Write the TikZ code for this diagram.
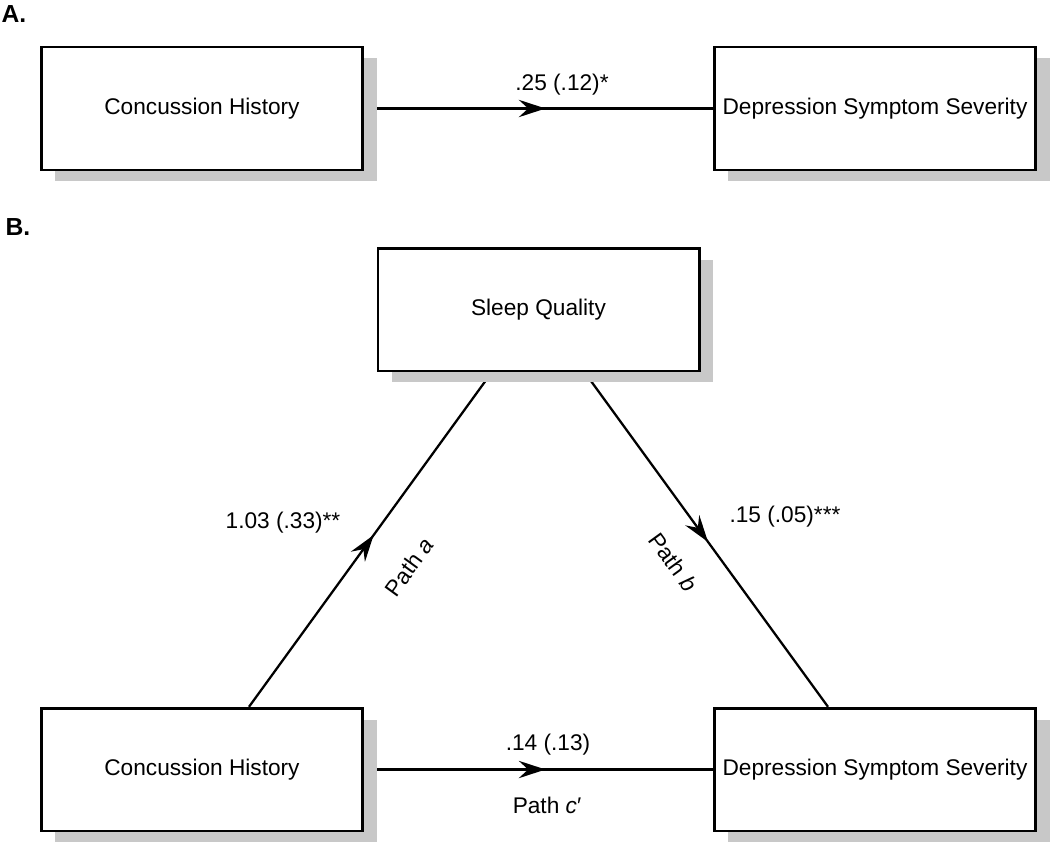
\documentclass[tikz,border=0pt]{standalone}
\usepackage{fontspec}
\setmainfont{Liberation Sans}
\usetikzlibrary{arrows.meta,decorations.markings,shadows,calc}
\definecolor{shadowgray}{RGB}{200,200,200}
\pgfdeclarelayer{background}
\pgfsetlayers{background,main}
\tikzset{
  varbox/.style={draw=black, line width=2pt, fill=white, minimum width=241pt, minimum height=92pt,
    inner sep=0pt, font=\fontsize{17}{20}\selectfont,
    drop shadow={shadow xshift=10.5pt, shadow yshift=-8.5pt, fill=shadowgray, opacity=1}},
  arrowline/.style={line width=1.7pt},
  midarrow/.style={postaction={decorate}, decoration={markings, mark=at position #1 with {\arrow{Stealth[length=20pt,width=13pt,inset=7pt]}}}},
  lab/.style={font=\fontsize{17}{20}\selectfont, inner sep=0pt},
  panellab/.style={font=\bfseries\fontsize{18.5}{20}\selectfont, inner sep=0pt},
}
\begin{document}
\begin{tikzpicture}[x=0.75pt,y=-0.75pt]
\useasboundingbox (0,0) rectangle (1050,842);
% panel labels
\node[panellab] (labA) at (14,14) {A.};
\node[panellab] (labB) at (18,227) {B.};
% boxes
\node[varbox] (chA) at (202,108.5) {Concussion History};
\node[varbox] (dsA) at (875,108.5) {Depression Symptom Severity};
\node[varbox] (sq) at (538.5,309.5) {Sleep Quality};
\node[varbox] (chB) at (202,769.5) {Concussion History};
\node[varbox] (dsB) at (875,769.5) {Depression Symptom Severity};
% connectors
\begin{pgfonlayer}{background}
\draw[arrowline, midarrow=0.52] (chA.east) -- (dsA.west);
\draw[arrowline, midarrow=0.513] ($(chB.north west)!0.645!(chB.north east)$) -- ($(sq.south west)!0.356!(sq.south east)$);
\draw[arrowline, midarrow=0.507] ($(sq.south west)!0.642!(sq.south east)$) -- ($(dsB.north west)!0.355!(dsB.north east)$);
\draw[arrowline, midarrow=0.52] (chB.east) -- (dsB.west);
\end{pgfonlayer}
% labels
\node[lab] (lA) at (562,85) {.25 (.12)*};
\node[lab] (la) at (283,523) {1.03 (.33)**};
\node[lab] (lb) at (785,517) {.15 (.05)***};
\node[lab] (lc) at (548,745) {.14 (.13)};
\node[lab, rotate=54] (pa) at (409,567) {Path \textit{a}};
\node[lab, rotate=-54] (pb) at (673,562) {Path \textit{b}};
\node[lab] (pc) at (547,805) {Path \textit{c}′};
\end{tikzpicture}
\end{document}
